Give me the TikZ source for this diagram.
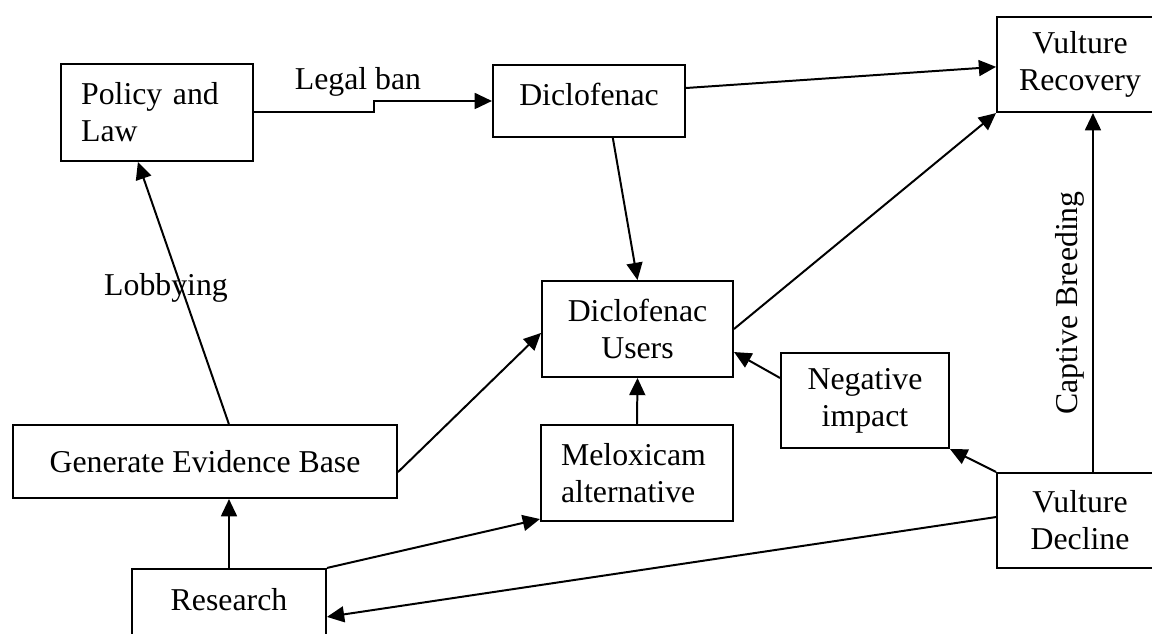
\documentclass[tikz,border=0pt]{standalone}
\usepackage{fontspec}
\setmainfont{Liberation Serif}
\usepackage{tikz}
\usetikzlibrary{arrows.meta,positioning,calc}

\tikzset{
  box/.style={draw, line width=0.75pt, rectangle, inner sep=1pt, align=center},
  leftbox/.style={box, align=left, inner xsep=7.6pt},
  link/.style={draw, line width=0.75pt, -{Triangle[length=6.5pt,width=6pt]}},
}

\begin{document}
\begin{tikzpicture}[x=0.3774pt,y=0.3774pt,yscale=-1,xscale=1,font=\fontsize{12}{14}\selectfont]
\useasboundingbox (0,0) rectangle (1152,634);

% Boxes
\node [leftbox, minimum width=72.5pt, minimum height=36.6pt, text width=57.3pt] (policy) at (157,112.5) {Policy and\\Law};
\node [box, minimum width=72.5pt, minimum height=27.2pt, text depth=5.3pt] (diclo) at (589,101) {Diclofenac};
\node [box, minimum width=62.6pt, minimum height=35.9pt] (recovery) at (1080,64.5) {Vulture\\Recovery};
\node [box, minimum width=72.1pt, minimum height=36.2pt] (users) at (637.5,329) {Diclofenac\\Users};
\node [box, minimum width=63.4pt, minimum height=35.9pt] (negative) at (865,400.5) {Negative\\impact};
\node [box, minimum width=144.9pt, minimum height=27.6pt] (evidence) at (205,461.5) {Generate Evidence Base};
\node [leftbox, minimum width=72.5pt, minimum height=36.2pt, text width=57.3pt] (meloxicam) at (637,473) {Meloxicam\\alternative};
\node [box, minimum width=62.6pt, minimum height=35.9pt] (decline) at (1080,520.5) {Vulture\\Decline};
\node [box, minimum width=73.2pt, minimum height=27.2pt, text depth=4.5pt] (research) at (229,605) {Research};

% Labels
\node (banlabel) at (358,82) {Legal ban};
\node (lobbylabel) at (166,288) {Lobbying};
\node [rotate=90] (breedlabel) at (1070,303) {Captive Breeding};

% Arrows (yshift runs downwards here, since yscale=-1)
\draw [link] (policy.east) -- ++(120,0) |- (diclo.west);
\draw [link] ([yshift=-4.9pt]diclo.east) -- ([yshift=0.9pt]recovery.west);
\draw [link] ([xshift=9pt]diclo.south) -- (users.north);
\draw [link] (users.east) -- (recovery.south west);
\draw [link] ([yshift=-8.5pt]negative.west) -- ([yshift=8.7pt]users.east);
\draw [link] (decline.north west) -- (negative.south east);
\draw [link] ([xshift=4.9pt]decline.north) -- ([xshift=4.9pt]recovery.south);
\draw [link] (meloxicam.north) -- (users.south);
\draw [link] ([yshift=4pt]evidence.east) -- ([yshift=1.5pt]users.west);
\draw [link] ([xshift=9pt]evidence.north) -- ([xshift=-7.2pt]policy.south);
\draw [link] (research.north) -- (research.north |- evidence.south);
\draw [link] (research.north east) -- ([yshift=-1.1pt]meloxicam.south west);
\draw [link] ([yshift=-1.3pt]decline.west) -- ([yshift=4.5pt]research.east);
\end{tikzpicture}
\end{document}
